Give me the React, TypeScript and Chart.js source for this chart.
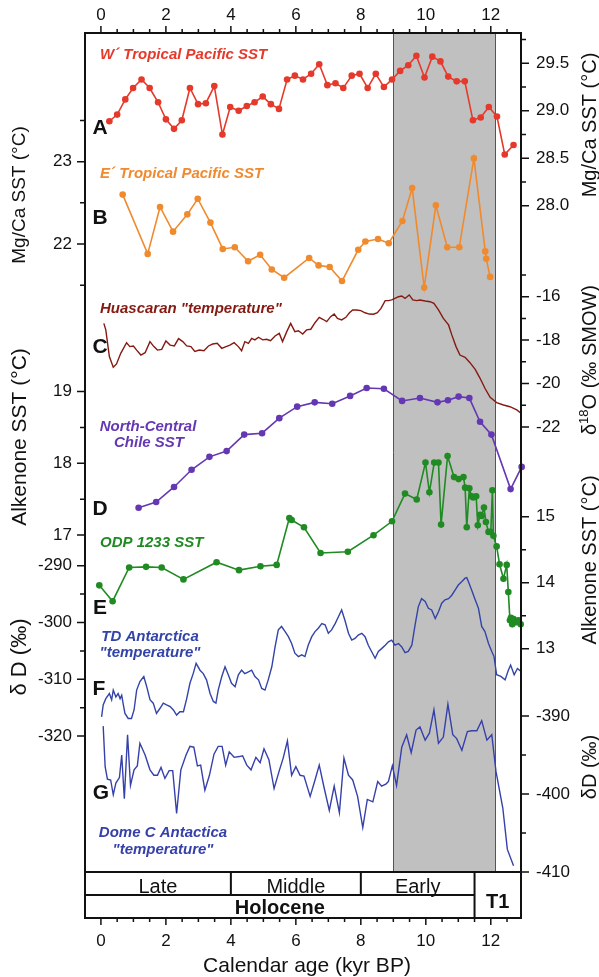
import React, { useEffect, useRef } from "react";
import { Chart, registerables } from "chart.js";

Chart.register(...registerables);

const FF = '"Liberation Sans", Arial, Helvetica, sans-serif';

// ---------- x axis (Calendar age, kyr BP) ----------
const X_MIN = -0.49;
const X_MAX = 12.93;
const X_LABELS = [0, 2, 4, 6, 8, 10, 12];
const SHADE = [9.0, 12.13];

// ---------- A: W' Tropical Pacific SST (Mg/Ca, right axis) ----------
const ageA = [0.26,0.50,0.75,0.99,1.25,1.50,1.76,2.00,2.25,2.49,2.74,2.99,3.23,3.49,3.74,3.98,4.24,4.49,4.73,4.98,5.23,5.48,5.73,5.97,6.22,6.47,6.72,6.97,7.22,7.46,7.72,7.96,8.21,8.46,8.71,8.96,9.21,9.46,9.71,9.96,10.20,10.45,10.69,10.95,11.20,11.45,11.69,11.94,12.19,12.43,12.70];
const sstA = [28.89,28.96,29.12,29.24,29.33,29.24,29.09,28.91,28.81,28.90,29.24,29.07,29.08,29.26,28.75,29.04,29.00,29.05,29.09,29.15,29.07,29.02,29.33,29.37,29.33,29.39,29.49,29.27,29.29,29.24,29.37,29.39,29.24,29.39,29.25,29.33,29.42,29.48,29.58,29.35,29.57,29.52,29.36,29.31,29.31,28.90,28.93,29.04,28.94,28.54,28.64];

// ---------- B: E' Tropical Pacific SST (Mg/Ca, left axis) ----------
const ageB = [0.67,1.44,1.82,2.22,2.66,2.98,3.37,3.75,4.12,4.53,4.90,5.26,5.64,6.41,6.70,7.04,7.42,7.92,8.14,8.53,8.86,9.28,9.58,9.95,10.31,10.66,11.03,11.48,11.83,11.86,11.98];
const sstB = [22.60,21.88,22.45,22.15,22.36,22.55,22.26,21.94,21.96,21.79,21.87,21.69,21.59,21.83,21.74,21.72,21.55,21.93,22.03,22.06,22.01,22.28,22.68,21.47,22.47,21.96,21.96,23.04,21.91,21.82,21.60];

// ---------- C: Huascaran "temperature" (d18O, right axis) ----------
const ageC = [0.09,0.15,0.26,0.38,0.48,0.61,0.79,0.89,1.00,1.10,1.23,1.36,1.51,1.63,1.74,1.87,2.00,2.13,2.26,2.39,2.52,2.64,2.77,2.89,3.03,3.17,3.31,3.44,3.58,3.72,3.85,3.97,4.10,4.23,4.33,4.43,4.54,4.64,4.74,4.85,4.98,5.10,5.22,5.36,5.49,5.59,5.72,5.84,5.97,6.08,6.21,6.33,6.46,6.59,6.72,6.83,6.95,7.07,7.18,7.28,7.41,7.54,7.65,7.75,7.87,8.00,8.13,8.26,8.39,8.51,8.62,8.75,8.85,8.95,9.05,9.16,9.26,9.36,9.49,9.60,9.72,9.82,9.98,10.13,10.25,10.39,10.54,10.70,10.80,10.93,11.05,11.21,11.36,11.52,11.67,11.82,11.98,12.18,12.39,12.59,12.80,12.93];
const d18oC = [-17.23,-17.53,-18.76,-19.25,-19.10,-18.61,-18.12,-18.30,-18.27,-18.46,-18.69,-18.58,-18.07,-18.30,-18.46,-18.43,-18.04,-18.23,-18.27,-17.93,-18.07,-18.27,-18.30,-18.52,-18.46,-18.49,-18.27,-18.18,-18.15,-18.38,-18.30,-18.23,-18.12,-18.30,-18.49,-18.07,-18.15,-17.92,-17.99,-17.87,-17.99,-17.96,-18.03,-17.81,-17.69,-18.07,-17.61,-17.23,-17.61,-17.57,-17.72,-17.53,-17.50,-17.20,-16.95,-17.04,-17.15,-16.92,-16.80,-17.00,-17.07,-16.95,-16.74,-16.61,-16.61,-16.64,-16.74,-16.80,-16.81,-16.74,-16.54,-16.18,-16.18,-16.15,-16.08,-16.00,-15.97,-16.08,-15.92,-16.15,-16.18,-16.15,-16.20,-16.23,-16.31,-16.61,-17.00,-17.30,-17.76,-18.30,-18.69,-18.79,-19.04,-19.35,-19.76,-20.22,-20.64,-20.88,-20.99,-21.07,-21.22,-21.37];

// ---------- D: North-Central Chile SST (alkenone, left axis) ----------
const ageD = [1.16,1.70,2.25,2.79,3.34,3.87,4.41,4.96,5.49,6.04,6.58,7.12,7.67,8.18,8.71,9.27,9.82,10.36,10.68,11.01,11.34,11.67,12.02,12.61,12.95];
const sstD = [17.38,17.46,17.67,17.91,18.09,18.17,18.40,18.42,18.63,18.79,18.85,18.83,18.94,19.05,19.04,18.87,18.91,18.85,18.88,18.93,18.91,18.58,18.40,17.64,17.95];

// ---------- E: ODP 1233 SST (alkenone, right axis) ----------
const ageE = [-0.05,0.36,0.87,1.39,1.87,2.54,3.56,4.25,4.91,5.41,5.80,5.87,6.25,6.76,7.60,8.39,8.96,9.36,9.72,9.99,10.11,10.26,10.39,10.47,10.67,10.87,11.01,11.16,11.21,11.26,11.34,11.41,11.46,11.55,11.60,11.67,11.72,11.79,11.85,11.93,12.00,12.05,12.08,12.18,12.27,12.39,12.49,12.54,12.59,12.62,12.66,12.70,12.78,12.85,12.92];
const sstE = [13.96,13.72,14.23,14.24,14.23,14.05,14.31,14.19,14.25,14.27,14.98,14.95,14.84,14.45,14.47,14.72,14.93,15.35,15.26,15.82,15.37,15.82,15.82,14.88,15.92,15.60,15.57,15.60,15.44,14.84,15.43,15.31,15.29,15.31,14.87,15.03,15.01,15.14,14.92,14.77,14.77,15.40,14.71,14.55,14.28,14.06,14.27,13.86,13.43,13.47,13.37,13.45,13.40,13.43,13.37];

// ---------- F: TD Antarctica "temperature" (dD, left axis) ----------
const ageF = [0.02,0.07,0.15,0.26,0.33,0.38,0.46,0.53,0.59,0.64,0.69,0.74,0.84,0.94,1.02,1.10,1.20,1.32,1.41,1.51,1.61,1.71,1.82,1.92,2.02,2.13,2.23,2.33,2.43,2.54,2.64,2.74,2.84,2.93,3.05,3.15,3.25,3.36,3.46,3.54,3.61,3.72,3.82,3.92,4.02,4.13,4.23,4.33,4.43,4.54,4.64,4.74,4.85,4.95,5.05,5.15,5.26,5.36,5.46,5.56,5.67,5.77,5.87,5.97,6.08,6.18,6.28,6.38,6.49,6.59,6.69,6.80,6.90,7.00,7.10,7.21,7.31,7.41,7.51,7.62,7.72,7.82,7.92,8.03,8.13,8.23,8.33,8.44,8.54,8.64,8.75,8.85,8.95,9.05,9.16,9.26,9.36,9.46,9.57,9.67,9.77,9.87,9.98,10.08,10.18,10.29,10.39,10.49,10.59,10.70,10.80,10.90,11.00,11.11,11.21,11.26,11.31,11.41,11.52,11.62,11.72,11.82,11.93,12.03,12.10,12.18,12.31,12.44,12.54,12.61,12.72,12.82,12.95];
const dDF = [-316.6,-314.5,-313.4,-312.5,-313.6,-311.9,-313.1,-312.5,-313.4,-312.8,-314.5,-316.0,-316.9,-316.9,-315.4,-311.9,-310.4,-309.5,-311.3,-313.6,-314.2,-316.0,-315.1,-314.2,-314.5,-314.8,-315.4,-316.3,-315.7,-315.7,-313.4,-310.7,-309.0,-307.2,-308.4,-309.0,-310.1,-312.5,-313.9,-314.2,-311.9,-309.5,-307.8,-309.2,-310.7,-311.3,-309.2,-308.4,-309.0,-308.7,-308.4,-309.5,-310.1,-311.6,-311.9,-310.1,-307.8,-304.3,-301.3,-300.7,-301.6,-302.5,-303.7,-305.4,-306.0,-305.7,-306.0,-304.0,-302.5,-301.6,-301.0,-300.2,-300.4,-301.9,-301.3,-300.2,-299.0,-297.8,-299.6,-301.9,-303.1,-302.8,-302.2,-301.9,-302.5,-304.0,-305.1,-306.3,-305.1,-304.6,-304.0,-303.4,-303.1,-304.0,-303.7,-304.3,-305.3,-305.1,-304.0,-300.4,-297.2,-295.8,-296.3,-297.5,-297.8,-299.3,-298.1,-296.6,-296.0,-295.8,-295.2,-294.3,-293.4,-292.8,-292.2,-292.1,-292.8,-294.3,-296.0,-297.5,-300.7,-301.6,-303.7,-305.1,-306.0,-309.2,-309.5,-310.1,-308.4,-307.5,-309.2,-308.1,-308.7];

// ---------- G: Dome C Antarctica "temperature" (dD, right axis) ----------
const ageG = [0.07,0.13,0.20,0.30,0.38,0.46,0.57,0.64,0.72,0.82,0.91,1.02,1.12,1.20,1.36,1.51,1.63,1.74,1.85,1.97,2.10,2.21,2.33,2.46,2.62,2.74,2.86,2.97,3.07,3.20,3.34,3.48,3.61,3.73,3.84,3.95,4.10,4.26,4.36,4.49,4.62,4.77,4.90,5.02,5.17,5.33,5.49,5.61,5.74,5.87,6.00,6.13,6.25,6.44,6.59,6.72,6.87,7.03,7.18,7.34,7.48,7.62,7.75,7.90,8.06,8.20,8.37,8.52,8.64,8.78,8.85,8.97,9.10,9.26,9.41,9.55,9.70,9.82,9.98,10.11,10.25,10.39,10.54,10.68,10.83,10.95,11.11,11.28,11.41,11.57,11.72,11.88,12.03,12.16,12.37,12.51,12.70];
const dDG = [-391.3,-396.5,-398.1,-398.2,-400.1,-398.6,-397.9,-395.0,-400.6,-392.4,-398.9,-396.9,-396.4,-393.5,-395.0,-396.9,-397.6,-397.6,-396.6,-398.0,-397.0,-397.0,-402.5,-396.9,-395.0,-393.9,-394.0,-396.4,-396.3,-399.5,-397.6,-394.9,-393.9,-393.9,-396.3,-394.6,-395.3,-395.2,-395.1,-396.3,-396.9,-395.3,-396.0,-394.2,-395.6,-399.3,-397.0,-395.4,-393.2,-397.6,-396.5,-397.6,-397.7,-400.3,-398.2,-396.3,-399.2,-402.1,-399.0,-402.4,-395.4,-397.6,-398.2,-400.3,-404.3,-400.7,-401.0,-398.4,-399.0,-398.7,-398.4,-396.4,-398.9,-394.0,-392.4,-394.7,-391.8,-391.4,-393.1,-392.2,-389.2,-393.5,-392.7,-388.5,-392.4,-392.9,-394.4,-392.0,-391.9,-391.9,-390.6,-393.1,-392.4,-397.1,-401.8,-407.1,-409.2];

// ---------- axis ticks ----------
const TICKS_B = [21.5, 22, 22.5, 23, 23.5];
const LABELS_B = [22, 23];
const TICKS_D = [17, 17.5, 18, 18.5, 19];
const LABELS_D = [17, 18, 19];
const TICKS_F = [-320, -315, -310, -305, -300, -295, -290];
const LABELS_F = [-290, -300, -310, -320];
const TICKS_A = [28, 28.25, 28.5, 28.75, 29, 29.25, 29.5, 29.75];
const LABELS_A = [28.0, 28.5, 29.0, 29.5];
const TICKS_C = [-22, -21, -20, -19, -18, -17, -16, -15];
const LABELS_C = [-16, -18, -20, -22];
const TICKS_E = [13, 13.5, 14, 14.5, 15];
const LABELS_E = [13, 14, 15];
const TICKS_G = [-410, -405, -400, -395, -390];
const LABELS_G = [-390, -400, -410];

// ---------- layout ----------
const W = 599;
const H = 977;
const LEFT = 85;
const RIGHT = 521;
const TOP = 33;
const PLOT_BOTTOM = 872;
const ROW_MID = 895;
const AXIS_BOTTOM = 918;

function yRange(v: number, p: number, k: number) {
  const max = v + (p - TOP) / k;
  return { min: max - (AXIS_BOTTOM - TOP) / k, max };
}

const COLORS = {
  A: "#e5392b",
  B: "#f08a2e",
  C: "#851a12",
  D: "#6438b2",
  E: "#1f8b22",
  F: "#3344a8",
  G: "#3640aa",
};

const pts = (xs: number[], ys: number[]) => xs.map((x, i) => ({ x, y: ys[i] }));

function rotText(ctx: CanvasRenderingContext2D, cx: number, cy: number, parts: { t: string; f: string; dy?: number }[]) {
  ctx.save();
  ctx.translate(cx, cy);
  ctx.rotate(-Math.PI / 2);
  ctx.textAlign = "left";
  ctx.textBaseline = "middle";
  let total = 0;
  const ws = parts.map((p) => {
    ctx.font = p.f;
    const w = ctx.measureText(p.t).width;
    total += w;
    return w;
  });
  let x = -total / 2;
  parts.forEach((p, i) => {
    ctx.font = p.f;
    ctx.fillText(p.t, x, p.dy || 0);
    x += ws[i];
  });
  ctx.restore();
}

const overlay = {
  id: "overlay",
  beforeDatasetsDraw(chart: any) {
    const ctx = chart.ctx as CanvasRenderingContext2D;
    const xs = chart.scales.x;
    const x1 = xs.getPixelForValue(SHADE[0]);
    const x2 = xs.getPixelForValue(SHADE[1]);
    ctx.save();
    ctx.fillStyle = "#c0c0c0";
    ctx.fillRect(x1, TOP, x2 - x1, PLOT_BOTTOM - TOP);
    ctx.strokeStyle = "#555";
    ctx.lineWidth = 1;
    ctx.beginPath();
    ctx.moveTo(Math.round(x1) + 0.5, TOP);
    ctx.lineTo(Math.round(x1) + 0.5, PLOT_BOTTOM);
    ctx.moveTo(Math.round(x2) + 0.5, TOP);
    ctx.lineTo(Math.round(x2) + 0.5, PLOT_BOTTOM);
    ctx.stroke();
    ctx.restore();
  },
  afterDraw(chart: any) {
    const ctx = chart.ctx as CanvasRenderingContext2D;
    const xs = chart.scales.x;
    ctx.save();
    ctx.strokeStyle = "#111";
    ctx.fillStyle = "#111";
    ctx.lineWidth = 2;
    // frame
    ctx.strokeRect(LEFT, TOP, RIGHT - LEFT, PLOT_BOTTOM - TOP);
    // band table
    const x4 = xs.getPixelForValue(4);
    const x8 = xs.getPixelForValue(8);
    const x115 = xs.getPixelForValue(11.5);
    ctx.beginPath();
    ctx.moveTo(LEFT, PLOT_BOTTOM); ctx.lineTo(LEFT, AXIS_BOTTOM);
    ctx.moveTo(RIGHT, PLOT_BOTTOM); ctx.lineTo(RIGHT, AXIS_BOTTOM);
    ctx.moveTo(LEFT - 1, AXIS_BOTTOM); ctx.lineTo(RIGHT + 1, AXIS_BOTTOM);
    ctx.moveTo(LEFT, ROW_MID); ctx.lineTo(x115, ROW_MID);
    ctx.moveTo(x4, PLOT_BOTTOM); ctx.lineTo(x4, ROW_MID);
    ctx.moveTo(x8, PLOT_BOTTOM); ctx.lineTo(x8, ROW_MID);
    ctx.moveTo(x115, PLOT_BOTTOM); ctx.lineTo(x115, AXIS_BOTTOM);
    ctx.stroke();
    ctx.textAlign = "center";
    ctx.textBaseline = "middle";
    ctx.font = `20px ${FF}`;
    ctx.fillText("Late", (LEFT + x4) / 2, 887);
    ctx.fillText("Middle", (x4 + x8) / 2, 887);
    ctx.fillText("Early", (x8 + x115) / 2, 887);
    ctx.font = `bold 20px ${FF}`;
    ctx.fillText("Holocene", (LEFT + x115) / 2, 908);
    ctx.fillText("T1", (x115 + RIGHT) / 2, 902);

    // x ticks (top & bottom)
    ctx.lineWidth = 1.5;
    ctx.beginPath();
    for (let v = 0; v <= 12.5 + 1e-9; v += 0.5) {
      const px = xs.getPixelForValue(v);
      const major = Math.abs(v / 2 - Math.round(v / 2)) < 1e-9;
      const len = major ? 7 : 4;
      ctx.moveTo(px, TOP); ctx.lineTo(px, TOP - len);
      ctx.moveTo(px, AXIS_BOTTOM); ctx.lineTo(px, AXIS_BOTTOM + len);
    }
    ctx.stroke();
    ctx.font = `17px ${FF}`;
    X_LABELS.forEach((v) => {
      const px = xs.getPixelForValue(v);
      ctx.fillText(String(v), px, 15);
      ctx.fillText(String(v), px, 941);
    });
    ctx.font = `21px ${FF}`;
    ctx.fillText("Calendar age (kyr BP)", 307, 966);

    // y axes
    const drawAxis = (id: string, side: "L" | "R", ticks: number[], labels: number[], fmt: (v: number) => string) => {
      const sc = chart.scales[id];
      ctx.beginPath();
      ticks.forEach((v) => {
        const py = sc.getPixelForValue(v);
        const major = labels.some((l) => Math.abs(l - v) < 1e-9);
        const len = major ? 8 : 5;
        if (side === "L") { ctx.moveTo(LEFT, py); ctx.lineTo(LEFT - len, py); }
        else { ctx.moveTo(RIGHT, py); ctx.lineTo(RIGHT + len, py); }
      });
      ctx.stroke();
      ctx.font = `17px ${FF}`;
      ctx.textAlign = side === "L" ? "right" : "left";
      labels.forEach((v) => {
        const py = sc.getPixelForValue(v);
        ctx.fillText(fmt(v), side === "L" ? 72 : 536, py);
      });
    };
    drawAxis("yB", "L", TICKS_B, LABELS_B, (v) => String(v));
    drawAxis("yD", "L", TICKS_D, LABELS_D, (v) => String(v));
    drawAxis("yF", "L", TICKS_F, LABELS_F, (v) => String(v));
    drawAxis("yA", "R", TICKS_A, LABELS_A, (v) => v.toFixed(1));
    drawAxis("yC", "R", TICKS_C, LABELS_C, (v) => String(v));
    drawAxis("yE", "R", TICKS_E, LABELS_E, (v) => String(v));
    drawAxis("yG", "R", TICKS_G, LABELS_G, (v) => String(v));

    // axis titles
    ctx.fillStyle = "#111";
    rotText(ctx, 20, 195, [{ t: "Mg/Ca SST (°C)", f: `19px ${FF}` }]);
    rotText(ctx, 20, 437, [{ t: "Alkenone SST (°C)", f: `21px ${FF}` }]);
    rotText(ctx, 20, 657, [{ t: "δ D (‰)", f: `22px ${FF}` }]);
    rotText(ctx, 590, 125, [{ t: "Mg/Ca SST (°C)", f: `20px ${FF}` }]);
    rotText(ctx, 590, 360, [
      { t: "δ", f: `20px ${FF}` },
      { t: "18", f: `13px ${FF}`, dy: -6 },
      { t: "O (‰ SMOW)", f: `20px ${FF}` },
    ]);
    rotText(ctx, 590, 560, [{ t: "Alkenone SST (°C)", f: `20px ${FF}` }]);
    rotText(ctx, 590, 767, [{ t: "δD (‰)", f: `20px ${FF}` }]);

    // panel letters
    ctx.textAlign = "center";
    ctx.font = `bold 21px ${FF}`;
    ctx.fillStyle = "#111";
    [["A", 100, 128], ["B", 100, 218], ["C", 100, 347], ["D", 100, 509], ["E", 100, 608], ["F", 99, 689], ["G", 101, 793]].forEach(
      ([t, x, y]) => ctx.fillText(t as string, x as number, y as number)
    );

    // series labels
    ctx.font = `italic bold 15px ${FF}`;
    ctx.textAlign = "left";
    ctx.fillStyle = COLORS.A; ctx.fillText("W´ Tropical Pacific SST", 100, 55);
    ctx.fillStyle = COLORS.B; ctx.fillText("E´ Tropical Pacific SST", 100, 174);
    ctx.fillStyle = COLORS.C; ctx.fillText('Huascaran "temperature"', 100, 309);
    ctx.fillStyle = COLORS.E; ctx.fillText("ODP 1233 SST", 100, 543);
    ctx.textAlign = "center";
    ctx.fillStyle = COLORS.D; ctx.fillText("North-Central", 148, 427); ctx.fillText("Chile SST", 149, 443);
    ctx.fillStyle = COLORS.F; ctx.fillText("TD Antarctica", 150, 637); ctx.fillText('"temperature"', 150, 653);
    ctx.fillStyle = COLORS.G; ctx.fillText("Dome C Antactica", 163, 833); ctx.fillText('"temperature"', 163, 850);
    ctx.restore();
  },
};

function ds(label: string, xs: number[], ys: number[], axis: string, color: string, radius: number) {
  return {
    label,
    data: pts(xs, ys),
    yAxisID: axis,
    xAxisID: "x",
    borderColor: color,
    backgroundColor: color,
    pointBackgroundColor: color,
    pointBorderWidth: 0,
    pointRadius: radius,
    borderWidth: radius > 0 ? 1.6 : 1.4,
    tension: 0,
    fill: false,
    clip: false as any,
  };
}

export default function App() {
  const ref = useRef<HTMLCanvasElement | null>(null);
  useEffect(() => {
    if (!ref.current) return;
    const hidden = (r: { min: number; max: number }) => ({ type: "linear" as const, display: false, min: r.min, max: r.max });
    const chart = new Chart(ref.current, {
      type: "line",
      data: {
        datasets: [
          ds("Dome C", ageG, dDG, "yG", COLORS.G, 0),
          ds("TD", ageF, dDF, "yF", COLORS.F, 0),
          ds("Huascaran", ageC, d18oC, "yC", COLORS.C, 0),
          ds("ODP 1233", ageE, sstE, "yE", COLORS.E, 3.3),
          ds("Chile", ageD, sstD, "yD", COLORS.D, 3.3),
          ds("E Pacific", ageB, sstB, "yB", COLORS.B, 3.3),
          ds("W Pacific", ageA, sstA, "yA", COLORS.A, 3.3),
        ] as any,
      },
      options: {
        animation: false,
        responsive: false,
        maintainAspectRatio: false,
        layout: { padding: { left: LEFT, right: W - RIGHT, top: TOP, bottom: H - AXIS_BOTTOM } },
        plugins: { legend: { display: false }, tooltip: { enabled: false } },
        scales: {
          x: { type: "linear", display: false, min: X_MIN, max: X_MAX },
          yA: hidden(yRange(29.5, 63.3, 95)),
          yB: hidden(yRange(23, 161.7, 82.3)),
          yC: hidden(yRange(-15, 275, 21.7)),
          yD: hidden(yRange(19, 391.6, 71.7)),
          yE: hidden(yRange(15, 516.7, 66)),
          yF: hidden(yRange(-290, 565.7, 5.68)),
          yG: hidden(yRange(-390, 716, 7.8)),
        } as any,
      },
      plugins: [overlay as any],
    });
    return () => chart.destroy();
  }, []);
  return (
    <div style={{ position: "absolute", left: 0, top: 0, width: W, height: H, background: "#fff" }}>
      <canvas ref={ref} width={W} height={H} style={{ display: "block" }} />
    </div>
  );
}
